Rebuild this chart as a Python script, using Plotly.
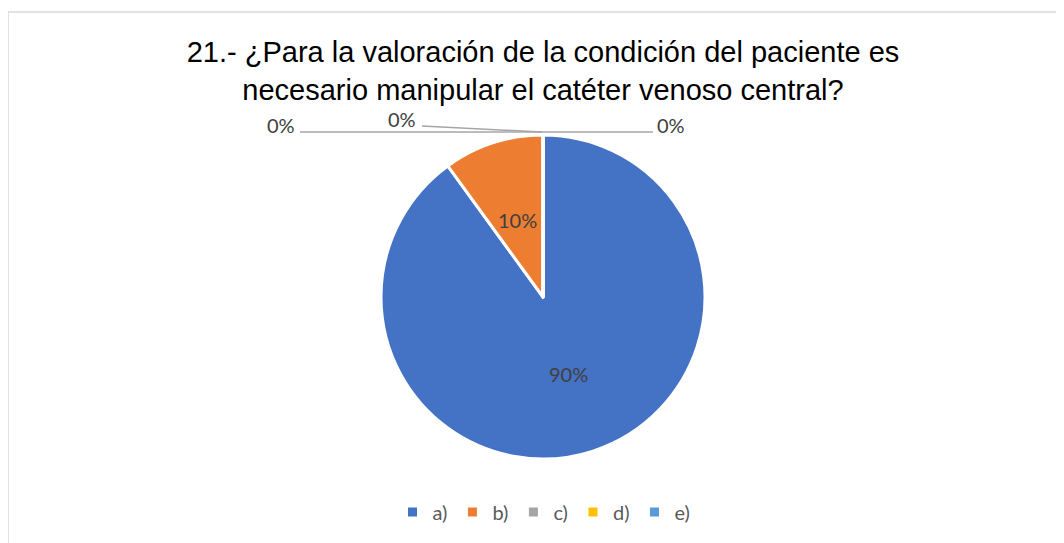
import math
import plotly.graph_objects as go

categories = ["a)", "b)", "c)", "d)", "e)"]
values = [90, 10, 0, 0, 0]
colors = ["#4472C4", "#ED7D31", "#A5A5A5", "#FFC000", "#5B9BD5"]
title_text = "21.- ¿Para la valoración de la condición del paciente es<br>necesario manipular el catéter venoso central?"

# figure size (page body has an 8px margin)
W, H = 1056, 535
OFF = 8  # screen offset
cx, cy, r = 543 - OFF, 297 - OFF, 162

LABEL_FONT = "Lato, Carlito, sans-serif"


def px(x):
    return (x - OFF) / W


def py(y):
    return 1 - (y - OFF) / H


fig = go.Figure()
fig.add_trace(go.Pie(
    labels=categories,
    values=values,
    sort=False,
    direction="clockwise",
    rotation=0,
    marker=dict(colors=colors, line=dict(color="white", width=3)),
    textinfo="none",
    hoverinfo="label+percent",
    domain=dict(x=[(cx - r) / W, (cx + r) / W], y=[(H - cy - r) / H, (H - cy + r) / H]),
))

# in-slice percentage labels, placed at each slice's mid angle, half radius
total = sum(values)
cum = 0
for v in values:
    if v > 0:
        mid = (cum + v / 2) / total * 2 * math.pi
        lx = cx + 0.5 * r * math.sin(mid)
        ly = cy - 0.5 * r * math.cos(mid)
        fig.add_annotation(x=lx / W, y=1 - ly / H, xref="paper", yref="paper",
                           xanchor="center", yanchor="middle",
                           text=f"{v / total:.0%}", showarrow=False,
                           font=dict(family=LABEL_FONT, size=20, color="#404040"))
    cum += v

# zero-value labels with leader lines (Excel-style)
zero_labels = [f"{v / total:.0%}" for v in values[2:]]
label_pos = [(281, 125), (402, 119), (671, 125)]
line_paths = [
    [(300, 132), (542, 132)],
    [(422, 126), (542, 132)],
    [(542, 132), (653, 132)],
]
for txt, (lx, ly) in zip(zero_labels, label_pos):
    fig.add_annotation(x=px(lx), y=py(ly), xref="paper", yref="paper",
                       xanchor="center", yanchor="middle",
                       text=txt, showarrow=False,
                       font=dict(family=LABEL_FONT, size=20, color="#404040"))
for (x0, y0), (x1, y1) in line_paths:
    fig.add_shape(type="line", xref="paper", yref="paper",
                  x0=px(x0), y0=py(y0), x1=px(x1), y1=py(y1),
                  line=dict(color="#A6A6A6", width=1.5))

# chart area border
fig.add_shape(type="rect", xref="paper", yref="paper",
              x0=0, y0=-0.05, x1=1.05, y1=py(12),
              line=dict(color="#D9D9D9", width=1.5), layer="below")

fig.update_layout(
    width=W, height=H,
    margin=dict(l=0, r=0, t=0, b=0),
    paper_bgcolor="white",
    plot_bgcolor="white",
    title=dict(text=title_text, x=px(543), xanchor="center", y=py(62), yanchor="middle",
               font=dict(family="Liberation Sans, Arial, sans-serif", size=29, color="#000000")),
    legend=dict(orientation="h", x=px(544), xanchor="center", y=py(512), yanchor="middle",
                font=dict(family=LABEL_FONT, size=20, color="#595959"),
                itemwidth=30, traceorder="normal"),
    showlegend=True,
)

fig.write_html("out.html")
